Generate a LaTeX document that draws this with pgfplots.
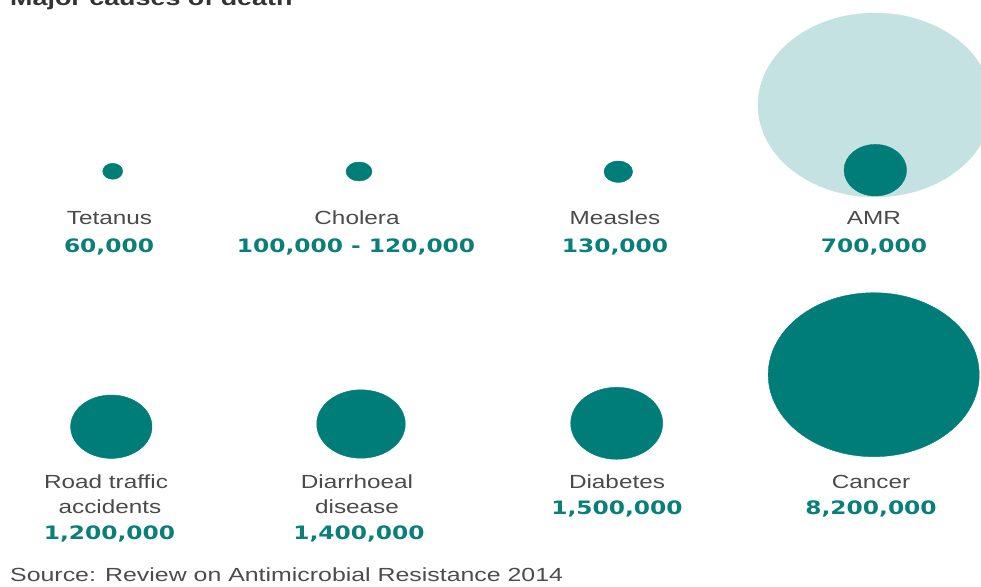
\documentclass[border=0pt]{standalone}
\usepackage{pgfplots}
\pgfplotsset{compat=1.18}
\usepackage{fontspec}
\setmainfont{Liberation Sans}
\newfontfamily\valfont{DejaVu Sans}
\definecolor{tealc}{HTML}{007D78}
\definecolor{lightc}{HTML}{C4E2E2}
\definecolor{namec}{HTML}{4A4A4A}
\definecolor{valc}{HTML}{0A7F7A}
\newcommand{\nm}[1]{\scalebox{1.28}[1]{\fontsize{19}{22}\selectfont #1}}
\newcommand{\vl}[1]{\scalebox{1.26}[1]{\valfont\bfseries\fontsize{18.5}{22}\selectfont #1}}
\begin{document}
\begin{tikzpicture}
\begin{axis}[at={(0,0)}, anchor=south west, scale only axis,
  width=981pt, height=586pt, xmin=0, xmax=981, ymin=0, ymax=586,
  y dir=reverse, hide axis, clip=false,
  every axis plot/.append style={only marks, mark=*}]
% background bubble: AMR in 2050 (10,000,000)
\addplot[color=lightc, mark size=92pt, mark options={xscale=1.272, fill=lightc, draw=lightc}] coordinates {(875,105)};
% bubbles (centre x, centre y; radius in mark size, xscale)
\addplot[color=tealc, mark size=8pt, mark options={xscale=1.25, fill=tealc, draw=tealc}] coordinates {(112.7,171.3)};
\addplot[color=tealc, mark size=9.5pt, mark options={xscale=1.37, fill=tealc, draw=tealc}] coordinates {(359,171.5)};
\addplot[color=tealc, mark size=10.7pt, mark options={xscale=1.34, fill=tealc, draw=tealc}] coordinates {(618.3,171.7)};
\addplot[color=tealc, mark size=25.8pt, mark options={xscale=1.213, fill=tealc, draw=tealc}] coordinates {(875.3,170.2)};
\addplot[color=tealc, mark size=31.7pt, mark options={xscale=1.284, fill=tealc, draw=tealc}] coordinates {(111.3,426.7)};
\addplot[color=tealc, mark size=34.2pt, mark options={xscale=1.295, fill=tealc, draw=tealc}] coordinates {(361,424)};
\addplot[color=tealc, mark size=36pt, mark options={xscale=1.278, fill=tealc, draw=tealc}] coordinates {(616.7,423.3)};
\addplot[color=tealc, mark size=82pt, mark options={xscale=1.287, fill=tealc, draw=tealc}] coordinates {(873.7,374.7)};

% title (cut off at top, as in the reference) and source
\node[anchor=base west, text=black!80, inner sep=0pt] at (axis cs:10,6) {\scalebox{1.28}[1]{\bfseries\fontsize{21}{24}\selectfont Major causes of death}};
\node[anchor=base west, text=black!70, inner sep=0pt] at (axis cs:10,581) {\scalebox{1.31}[1]{\fontsize{19}{22}\selectfont Source: Review on Antimicrobial Resistance 2014}};

% labels row 1
\node[anchor=base, text=namec, inner sep=0pt] at (axis cs:109.5,224) {\nm{Tetanus}};
\node[anchor=base, text=valc, inner sep=0pt] at (axis cs:109,252) {\vl{60,000}};
\node[anchor=base, text=namec, inner sep=0pt] at (axis cs:357,224) {\nm{Cholera}};
\node[anchor=base, text=valc, inner sep=0pt] at (axis cs:356,252) {\vl{100,000 - 120,000}};
\node[anchor=base, text=namec, inner sep=0pt] at (axis cs:615,224) {\nm{Measles}};
\node[anchor=base, text=valc, inner sep=0pt] at (axis cs:615,252) {\vl{130,000}};
\node[anchor=base, text=namec, inner sep=0pt] at (axis cs:874,224) {\nm{AMR}};
\node[anchor=base, text=valc, inner sep=0pt] at (axis cs:874,252) {\vl{700,000}};
\node[anchor=base, text=namec, inner sep=0pt] at (axis cs:873,83) {\nm{AMR in 2050}};
\node[anchor=base, text=valc, inner sep=0pt] at (axis cs:871.5,110) {\vl{10,000,000}};

% labels row 2
\node[anchor=base, text=namec, inner sep=0pt] at (axis cs:106,488) {\nm{Road traffic}};
\node[anchor=base, text=namec, inner sep=0pt] at (axis cs:110,513) {\nm{accidents}};
\node[anchor=base, text=valc, inner sep=0pt] at (axis cs:109.5,539) {\vl{1,200,000}};
\node[anchor=base, text=namec, inner sep=0pt] at (axis cs:357,488) {\nm{Diarrhoeal}};
\node[anchor=base, text=namec, inner sep=0pt] at (axis cs:357,513) {\nm{disease}};
\node[anchor=base, text=valc, inner sep=0pt] at (axis cs:359,539) {\vl{1,400,000}};
\node[anchor=base, text=namec, inner sep=0pt] at (axis cs:617,488) {\nm{Diabetes}};
\node[anchor=base, text=valc, inner sep=0pt] at (axis cs:617,514) {\vl{1,500,000}};
\node[anchor=base, text=namec, inner sep=0pt] at (axis cs:871,488) {\nm{Cancer}};
\node[anchor=base, text=valc, inner sep=0pt] at (axis cs:871,514) {\vl{8,200,000}};
\end{axis}
\pgfresetboundingbox
\useasboundingbox (0,0) rectangle (981pt,586pt);
\end{tikzpicture}
\end{document}
